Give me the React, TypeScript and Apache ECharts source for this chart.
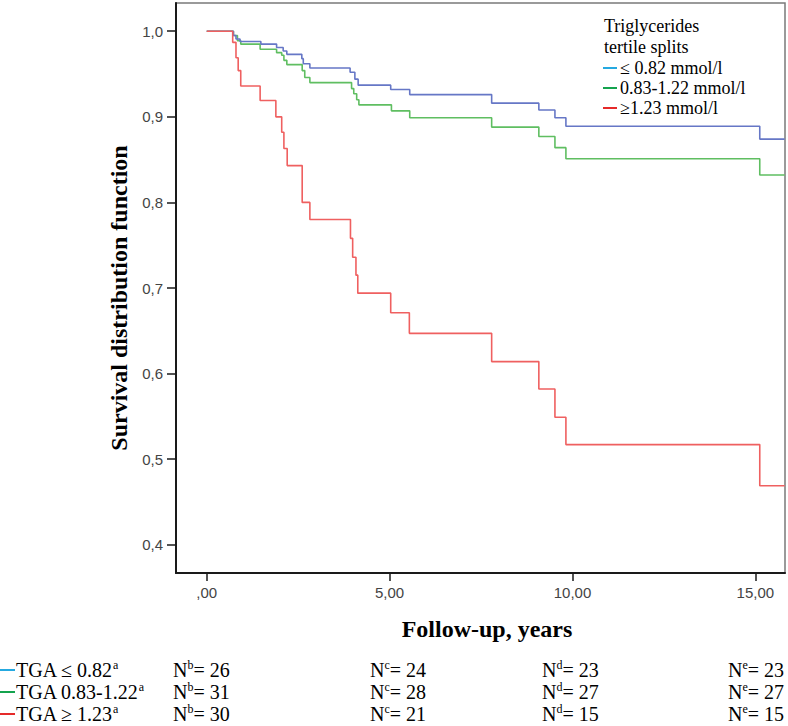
import React, { useEffect, useRef } from "react";
import * as echarts from "echarts";

// Kaplan-Meier step data (time in years, survival after the event)
const lowTimes = [0, 0.73, 0.8, 0.91, 1.48, 1.91, 2.09, 2.19, 2.6, 2.64, 2.82, 3.92, 4.05, 4.14, 5.03, 5.55, 7.79, 9.08, 9.52, 9.82, 15.12, 15.8];
const lowSurv = [1.0, 0.995, 0.991, 0.988, 0.985, 0.981, 0.977, 0.973, 0.968, 0.962, 0.957, 0.952, 0.944, 0.937, 0.932, 0.926, 0.916, 0.908, 0.899, 0.889, 0.874, 0.874];

const midTimes = [0, 0.73, 0.84, 0.93, 1.46, 1.91, 2.05, 2.11, 2.19, 2.61, 2.68, 2.82, 3.96, 4.02, 4.1, 4.16, 5.05, 5.55, 7.79, 9.08, 9.52, 9.82, 15.12, 15.8];
const midSurv = [1.0, 0.995, 0.989, 0.985, 0.979, 0.975, 0.972, 0.966, 0.961, 0.954, 0.946, 0.94, 0.933, 0.927, 0.92, 0.914, 0.907, 0.899, 0.888, 0.877, 0.864, 0.851, 0.832, 0.832];

const highTimes = [0, 0.71, 0.8, 0.86, 0.93, 1.46, 1.89, 2.05, 2.11, 2.2, 2.61, 2.82, 3.93, 3.99, 4.08, 4.13, 5.03, 5.54, 7.79, 9.08, 9.52, 9.82, 15.12, 15.8];
const highSurv = [1.0, 0.987, 0.969, 0.954, 0.936, 0.919, 0.9, 0.882, 0.863, 0.843, 0.8, 0.78, 0.758, 0.736, 0.715, 0.694, 0.671, 0.647, 0.614, 0.582, 0.549, 0.517, 0.469, 0.469];

const xTicks = [0, 5, 10, 15];
const yTicks = [0.4, 0.5, 0.6, 0.7, 0.8, 0.9, 1.0];

const legendTitle = ["Triglycerides", "tertile splits"];
const legendItems = ["≤ 0.82 mmol/l", "0.83-1.22 mmol/l", "≥1.23 mmol/l"];

const tableGroups = ["TGA ≤ 0.82", "TGA 0.83-1.22", "TGA ≥ 1.23"];
const tableLetters = ["b", "c", "d", "e"];
const tableN = [
  [26, 24, 23, 23],
  [31, 28, 27, 27],
  [30, 21, 15, 15],
];

const curveColors = ["#6677c6", "#5fbe61", "#ef6060"];
const keyColors = ["#25a9e0", "#14a34e", "#e52a2a"];

const SERIF = '"Liberation Serif", "Times New Roman", Times, serif';
const SANS = '"Liberation Sans", Arial, Helvetica, sans-serif';

const zip = (t: number[], s: number[]) => t.map((v, i) => [v, s[i]]);

export default function App() {
  const ref = useRef<HTMLDivElement>(null);
  useEffect(() => {
    document.body.style.margin = "0";
    if (!ref.current) return;
    const chart = echarts.init(ref.current, undefined, { renderer: "svg" });

    const graphics: any[] = [];
    // axis names
    graphics.push({
      type: "text",
      x: 119,
      y: 298,
      rotation: Math.PI / 2,
      style: {
        text: "Survival distribution function",
        font: `bold 24px ${SERIF}`,
        fill: "#000",
        align: "center",
        verticalAlign: "middle",
        textAlign: "center",
        textVerticalAlign: "middle",
      },
    });
    graphics.push({
      type: "text",
      x: 487,
      y: 629,
      style: {
        text: "Follow-up, years",
        font: `bold 24px ${SERIF}`,
        fill: "#000",
        align: "center",
        verticalAlign: "middle",
        textAlign: "center",
        textVerticalAlign: "middle",
      },
    });
    // legend
    const legRowsY = [26, 47, 68, 88, 108];
    legendTitle.forEach((t, i) => {
      graphics.push({
        type: "text",
        x: 604,
        y: legRowsY[i],
        style: { text: t, font: `18px ${SERIF}`, fill: "#000", align: "left", verticalAlign: "middle", textAlign: "left", textVerticalAlign: "middle" },
      });
    });
    legendItems.forEach((t, i) => {
      const y = legRowsY[i + 2];
      graphics.push({
        type: "line",
        shape: { x1: 603, y1: y, x2: 617, y2: y },
        style: { stroke: keyColors[i], lineWidth: 2 },
      });
      graphics.push({
        type: "text",
        x: 620,
        y,
        style: { text: t, font: `18px ${SERIF}`, fill: "#000", align: "left", verticalAlign: "middle", textAlign: "left", textVerticalAlign: "middle" },
      });
    });
    // table below
    const rowY = [670, 692, 714];
    const colX = [173, 370, 542, 728];
    const rich = {
      m: { fontSize: 20, fontFamily: SERIF, lineHeight: 22, fill: "#000", color: "#000" },
      s: { fontSize: 12, fontFamily: SERIF, lineHeight: 12, verticalAlign: "top", fill: "#000", color: "#000" },
    };
    tableGroups.forEach((g, r) => {
      const y = rowY[r];
      graphics.push({
        type: "line",
        shape: { x1: 0, y1: y, x2: 15, y2: y },
        style: { stroke: keyColors[r], lineWidth: 2 },
      });
      graphics.push({
        type: "text",
        x: 16,
        y,
        style: { text: `{m|${g}}{s|a}`, rich, align: "left", verticalAlign: "middle", textAlign: "left", textVerticalAlign: "middle" },
      });
      tableN[r].forEach((n, c) => {
        graphics.push({
          type: "text",
          x: colX[c],
          y,
          style: { text: `{m|N}{s|${tableLetters[c]}}{m|= ${n}}`, rich, align: "left", verticalAlign: "middle", textAlign: "left", textVerticalAlign: "middle" },
        });
      });
    });

    const mk = (name: string, t: number[], s: number[], color: string) => ({
      name,
      type: "line",
      step: "end",
      showSymbol: false,
      symbol: "none",
      data: zip(t, s),
      lineStyle: { color, width: 1.6 },
      itemStyle: { color },
      silent: true,
    });

    chart.setOption({
      animation: false,
      backgroundColor: "#fff",
      grid: {
        left: 176,
        right: 3,
        top: 3,
        bottom: 153,
        show: true,
        borderColor: "#7a7a7a",
        borderWidth: 1.5,
        backgroundColor: "transparent",
      },
      xAxis: {
        type: "value",
        min: -0.84,
        max: 15.81,
        axisLine: { show: true, onZero: false, lineStyle: { color: "#1a1a1a", width: 2 } },
        axisTick: { show: true, inside: false, length: 8, customValues: xTicks, lineStyle: { color: "#1a1a1a", width: 1.5 } },
        axisLabel: {
          customValues: xTicks,
          margin: 12,
          fontSize: 15,
          fontFamily: SANS,
          color: "#444",
          formatter: (v: number) => (v === 0 ? ",00" : v.toFixed(2).replace(".", ",")),
        },
        splitLine: { show: false },
      },
      yAxis: {
        type: "value",
        min: 0.367,
        max: 1.033,
        axisLine: { show: true, onZero: false, lineStyle: { color: "#1a1a1a", width: 2 } },
        axisTick: { show: true, inside: false, length: 9, customValues: yTicks, lineStyle: { color: "#1a1a1a", width: 1.5 } },
        axisLabel: {
          customValues: yTicks,
          margin: 13,
          fontSize: 15,
          fontFamily: SANS,
          color: "#444",
          formatter: (v: number) => v.toFixed(1).replace(".", ","),
        },
        splitLine: { show: false },
      },
      series: [
        mk("0.83-1.22 mmol/l", midTimes, midSurv, curveColors[1]),
        mk("≤ 0.82 mmol/l", lowTimes, lowSurv, curveColors[0]),
        mk("≥1.23 mmol/l", highTimes, highSurv, curveColors[2]),
      ],
      graphic: graphics,
    });
    return () => chart.dispose();
  }, []);
  return <div ref={ref} style={{ width: 788, height: 726 }} />;
}
